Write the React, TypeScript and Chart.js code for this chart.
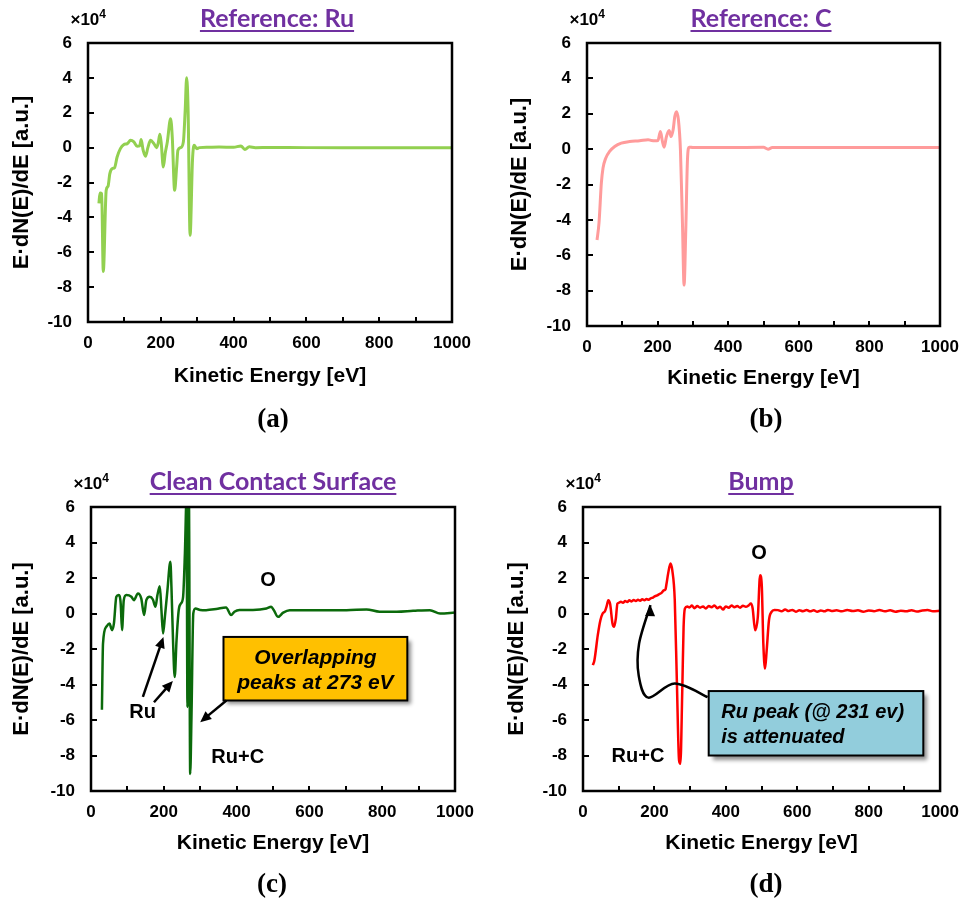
import React, { useEffect, useRef } from 'react';
import { Chart, registerables } from 'chart.js';

Chart.register(...registerables);

// ---------------- data (energy in eV, signal in units of 1e4) ----------------
const ruEnergy = [
  30, 33, 37.5, 42, 50, 55, 60, 67, 73, 80,
  89, 98, 108, 117, 126, 135, 142, 146, 151.5, 158,
  164.5, 172, 181, 188.5, 193, 197.5, 201, 207, 212, 218,
  227, 231.5, 238, 243.5, 247, 254.5, 262, 267, 271, 275,
  280.5, 287, 291.5, 299, 306, 330, 360, 400, 420, 431,
  443, 460, 500, 600, 700, 800, 900, 1000,
];
const ruSignal = [
  -3.2, -2.6, -2.64, -7.1, -2.45, -2.22, -1.49, -1.2, -1.15, -0.54,
  -0.06, 0.17, 0.23, 0.42, 0.33, 0.08, 0.1, 0.46, -0.15, -0.5,
  0, 0.42, 0.23, 0, 0.27, 0.76, 0.3, -1.11, -0.34, 0.33,
  1.66, 0.61, -2.45, -1.11, -0.15, 0, 0.33, 2.14, 4.0, 2.14,
  -5.03, -0.73, 0.13, -0.06, 0, 0.02, 0.03, 0.02, 0.1, -0.11,
  0.05, 0, 0.01, 0, 0, 0, 0, 0,
];

const carbonEnergy = [
  28.4, 34, 40.7, 45.4, 53, 64, 78.5, 97, 121, 149,
  173, 182.5, 192, 201, 208, 213.7, 218.4, 225, 232.6, 238.3,
  244, 248.7, 253.4, 259, 264.7, 270.4, 275, 279.9, 284.6, 289.3,
  300, 400, 500, 513, 525, 600, 700, 800, 900, 1000,
];
const carbonSignal = [
  -5.14, -4.17, -1.91, -1.07, -0.51, -0.13, 0.15, 0.34, 0.43, 0.47,
  0.53, 0.49, 0.47, 0.49, 0.99, 0.43, 0.11, 0.71, 1.05, 0.71,
  1.09, 1.84, 2.12, 1.65, -0.04, -4.17, -7.69, -4.54, -0.6, 0.11,
  0.09, 0.09, 0.1, 0.0, 0.09, 0.09, 0.09, 0.09, 0.09, 0.09,
];

const cleanEnergy = [
  30, 33, 42, 51, 55, 58, 63, 69.6, 76, 81.6,
  85.2, 90, 97, 111, 118, 129, 138, 146, 152, 161,
  170, 177, 182.5, 189, 193.5, 198, 203, 210, 218, 221,
  225.6, 230, 235, 241, 247, 253, 258, 262.5, 265, 269,
  272.5, 276, 281, 287, 300, 316, 344, 371, 385, 394,
  408, 445, 482, 495, 502, 514, 528, 546, 610, 702,
  757, 793, 840, 885, 931, 959, 1000,
];
const cleanSignal = [
  -5.42, -1.69, -0.75, -0.56, -0.8, -0.94, -0.56, 0.94, 1.04, 0.56,
  -0.94, 0.75, 1.04, 0.94, 0.75, 1.13, 0.85, -0.09, 0.75, 0.94,
  0.79, 0.38, 1.04, 1.54, 0.19, -1.13, -0.19, 1.32, 2.92, 1.5,
  -1.69, -3.58, -1.5, 0.19, 0.56, 0.94, 3.39, 6.5, -5.27, 6.5,
  -9.04, -5.84, 0, 0.28, 0.2, 0.19, 0.25, 0.34, -0.09, 0.1,
  0.2, 0.2, 0.28, 0.38, 0.2, -0.19, 0.05, 0.19, 0.19, 0.19,
  0.23, 0.1, 0.1, 0.15, 0.19, 0.0, 0.05,
];

const bumpEnergy = [
  27.6, 32, 41.4, 48.7, 55, 61.5, 67, 70.7, 76, 82.6,
  87, 92, 96.4, 100, 106, 112, 118, 124, 130, 136,
  142, 148, 154, 160, 166, 172, 178, 184, 190, 196,
  202, 208, 214, 220, 226, 231, 234, 238.5, 245, 250,
  257, 263, 269, 272.7, 278, 281.7, 285.4, 292, 298, 305,
  312, 320, 328, 336, 344, 352, 360, 368, 376, 384,
  392, 400, 408, 416, 424, 432, 440, 448, 456, 464,
  470, 475, 482, 489.6, 496, 500.6, 505, 509.8, 514.4, 520.8,
  528, 536, 546, 556, 566, 576, 586, 596, 606, 616,
  626, 636, 646, 656, 666, 676, 686, 696, 710, 725,
  740, 755, 770, 785, 800, 815, 830, 845, 860, 875,
  890, 905, 920, 935, 950, 965, 980, 1000,
];
const bumpSignal = [
  -2.91, -2.63, -1.22, -0.38, 0, 0.13, 0.47, 0.75, 0.53, -0.56,
  -0.75, -0.28, 0.56, 0.6, 0.66, 0.6, 0.7, 0.65, 0.74, 0.68,
  0.76, 0.7, 0.78, 0.72, 0.8, 0.74, 0.82, 0.77, 0.86, 0.9,
  0.98, 1.02, 1.1, 1.16, 1.3, 1.36, 1.69, 2.26, 2.82, 2.44,
  0.75, -3.95, -8.27, -8.46, -4.32, -0.75, 0.28, 0.4, 0.34, 0.45,
  0.3, 0.42, 0.33, 0.4, 0.28, 0.42, 0.35, 0.45, 0.3, 0.38,
  0.22, 0.4, 0.32, 0.45, 0.35, 0.42, 0.33, 0.44, 0.38, 0.46,
  0.56, 0.3, -0.94, -0.19, 2.16, 1.6, -1.69, -3.1, -2.07, -0.38,
  0.09, 0.2, 0.19, 0.12, 0.22, 0.14, 0.2, 0.1, 0.18, 0.13,
  0.2, 0.12, 0.18, 0.1, 0.17, 0.12, 0.2, 0.14, 0.18, 0.12,
  0.2, 0.14, 0.18, 0.1, 0.17, 0.13, 0.2, 0.12, 0.18, 0.1,
  0.16, 0.12, 0.19, 0.11, 0.17, 0.2, 0.12, 0.15,
];

const panelTitles = ['Reference: Ru', 'Reference: C', 'Clean Contact Surface', 'Bump'];
const panelLetters = ['(a)', '(b)', '(c)', '(d)'];
const xAxisTitle = 'Kinetic Energy [eV]';
const yAxisTitle = 'E·dN(E)/dE [a.u.]';
const xRange = [0, 1000];
const yRange = [-10, 6];
const xTickStep = 100;
const xLabelStep = 200;
const yTickStep = 2;

// ---------------- styles ----------------
const SANS = '"Liberation Sans", Arial, sans-serif';
const SERIF = '"Liberation Serif", "Times New Roman", serif';
const TITLE_FONT = 'Lato, "Noto Sans", sans-serif';
const PURPLE = '#7030A0';
const X_TITLE_SIZE = 21;
const Y_TITLE_SIZE = 22;

type Scale = { getPixelForValue: (v: number) => number };

function arrowHead(ctx: CanvasRenderingContext2D, x: number, y: number, ang: number, len = 11, half = 5) {
  ctx.beginPath();
  ctx.moveTo(x, y);
  ctx.lineTo(x - len * Math.cos(ang) + half * Math.sin(ang), y - len * Math.sin(ang) - half * Math.cos(ang));
  ctx.lineTo(x - len * Math.cos(ang) - half * Math.sin(ang), y - len * Math.sin(ang) + half * Math.cos(ang));
  ctx.closePath();
  ctx.fill();
}

function straightArrow(ctx: CanvasRenderingContext2D, x1: number, y1: number, x2: number, y2: number) {
  const ang = Math.atan2(y2 - y1, x2 - x1);
  ctx.beginPath();
  ctx.moveTo(x1, y1);
  ctx.lineTo(x2 - 9 * Math.cos(ang), y2 - 9 * Math.sin(ang));
  ctx.stroke();
  arrowHead(ctx, x2, y2, ang);
}

function shadowBox(ctx: CanvasRenderingContext2D, l: number, t: number, r: number, b: number, fill: string) {
  ctx.save();
  ctx.shadowColor = 'rgba(0,0,0,0.45)';
  ctx.shadowOffsetX = 4;
  ctx.shadowOffsetY = 4;
  ctx.shadowBlur = 4;
  ctx.fillStyle = fill;
  ctx.fillRect(l, t, r - l, b - t);
  ctx.restore();
  ctx.lineWidth = 2;
  ctx.strokeStyle = '#000';
  ctx.strokeRect(l, t, r - l, b - t);
}

function drawCleanNotes(ctx: CanvasRenderingContext2D, X: Scale, Y: Scale) {
  const px = (v: number) => X.getPixelForValue(v);
  const py = (v: number) => Y.getPixelForValue(v);
  ctx.fillStyle = '#000';
  ctx.strokeStyle = '#000';
  ctx.font = `bold 20px ${SANS}`;
  ctx.textAlign = 'center';
  ctx.textBaseline = 'middle';
  ctx.fillText('O', px(486), py(1.88));
  ctx.fillText('Ru', px(142), py(-5.58));
  ctx.fillText('Ru+C', px(403), py(-8.1));
  ctx.lineWidth = 2.5;
  straightArrow(ctx, px(142.5), py(-4.7), px(199), py(-1.32));
  straightArrow(ctx, px(173), py(-5.0), px(225), py(-3.8));
  shadowBox(ctx, px(364), py(-1.32), px(869), py(-4.9), '#FFC000');
  ctx.lineWidth = 2.5;
  ctx.fillStyle = '#000';
  straightArrow(ctx, px(372), py(-4.9), px(300), py(-6.12));
  ctx.font = `italic bold 21px ${SANS}`;
  ctx.textAlign = 'center';
  const cx = (px(364) + px(869)) / 2;
  ctx.fillText('Overlapping', cx, py(-2.53));
  ctx.fillText('peaks at 273 eV', cx, py(-3.94));
}

function drawBumpNotes(ctx: CanvasRenderingContext2D, X: Scale, Y: Scale) {
  const px = (v: number) => X.getPixelForValue(v);
  const py = (v: number) => Y.getPixelForValue(v);
  ctx.fillStyle = '#000';
  ctx.strokeStyle = '#000';
  ctx.font = `bold 20px ${SANS}`;
  ctx.textAlign = 'center';
  ctx.textBaseline = 'middle';
  ctx.fillText('O', px(493), py(3.4));
  ctx.fillText('Ru+C', px(154), py(-8.05));
  // curved arrow (Catmull-Rom through anchor points)
  const pts = [
    [349, -4.71], [257, -3.95], [183, -4.74], [156, -3.5], [157, -1.7], [189, 0.47],
  ].map(([e, v]) => [px(e), py(v)]);
  ctx.lineWidth = 2.5;
  ctx.beginPath();
  ctx.moveTo(pts[0][0], pts[0][1]);
  for (let i = 0; i < pts.length - 1; i++) {
    const p0 = pts[Math.max(0, i - 1)];
    const p1 = pts[i];
    const p2 = pts[i + 1];
    const p3 = pts[Math.min(pts.length - 1, i + 2)];
    const c1x = p1[0] + (p2[0] - p0[0]) / 6;
    const c1y = p1[1] + (p2[1] - p0[1]) / 6;
    const c2x = p2[0] - (p3[0] - p1[0]) / 6;
    const c2y = p2[1] - (p3[1] - p1[1]) / 6;
    ctx.bezierCurveTo(c1x, c1y, c2x, c2y, p2[0], p2[1]);
  }
  ctx.stroke();
  const a = pts[pts.length - 2];
  const b = pts[pts.length - 1];
  arrowHead(ctx, b[0], b[1], Math.atan2(b[1] - a[1], b[0] - a[0]) - 0.25);
  shadowBox(ctx, px(352), py(-4.37), px(953), py(-8.0), '#92CDDC');
  ctx.fillStyle = '#000';
  ctx.font = `italic bold 20px ${SANS}`;
  ctx.textAlign = 'left';
  ctx.fillText('Ru peak (@ 231 ev)', px(387), py(-5.56));
  ctx.fillText('is attenuated', px(387), py(-6.97));
}

interface PanelCfg {
  key: string;
  left: number; top: number; width: number; height: number;
  plot: { l: number; t: number; r: number; b: number };
  title: string; letter: string;
  xs: number[]; ys: number[];
  color: string; lineWidth: number;
  titleX: number; titleBase: number;
  noteBase: number;
  yTitleX: number; xTitleY: number;
  letterX: number; letterY: number;
  notes?: (ctx: CanvasRenderingContext2D, X: Scale, Y: Scale) => void;
}

const panels: PanelCfg[] = [
  {
    key: 'a', left: 0, top: 0, width: 485, height: 449,
    plot: { l: 88, t: 43, r: 452, b: 322 },
    title: panelTitles[0], letter: panelLetters[0],
    xs: ruEnergy, ys: ruSignal, color: '#92D050', lineWidth: 3,
    titleX: 277, titleBase: 27, noteBase: 25,
    yTitleX: 22, xTitleY: 376, letterX: 273, letterY: 420,
  },
  {
    key: 'b', left: 485, top: 0, width: 485, height: 449,
    plot: { l: 102, t: 43, r: 455, b: 326 },
    title: panelTitles[1], letter: panelLetters[1],
    xs: carbonEnergy, ys: carbonSignal, color: '#FF9B9B', lineWidth: 3,
    titleX: 276, titleBase: 27, noteBase: 25,
    yTitleX: 35, xTitleY: 378, letterX: 281, letterY: 420,
  },
  {
    key: 'c', left: 0, top: 450, width: 485, height: 449,
    plot: { l: 91, t: 57, r: 455, b: 341 },
    title: panelTitles[2], letter: panelLetters[2],
    xs: cleanEnergy, ys: cleanSignal, color: '#0B6A0B', lineWidth: 2.5,
    titleX: 273, titleBase: 40, noteBase: 39,
    yTitleX: 22, xTitleY: 393, letterX: 272, letterY: 435,
    notes: drawCleanNotes,
  },
  {
    key: 'd', left: 485, top: 450, width: 485, height: 449,
    plot: { l: 98, t: 57, r: 462, b: 341 },
    title: panelTitles[3], letter: panelLetters[3],
    xs: bumpEnergy, ys: bumpSignal, color: '#FF0000', lineWidth: 2.5,
    titleX: 276, titleBase: 40, noteBase: 39,
    yTitleX: 32, xTitleY: 393, letterX: 281, letterY: 435,
    notes: drawBumpNotes,
  },
];

function makeDecor(cfg: PanelCfg) {
  return {
    id: 'decor_' + cfg.key,
    afterDatasetsDraw(chart: any) {
      const { ctx, chartArea: a } = chart;
      const X = chart.scales.x;
      const Y = chart.scales.y;
      ctx.save();
      ctx.strokeStyle = '#000';
      ctx.lineWidth = 2;
      ctx.beginPath();
      X.ticks.forEach((t: any) => {
        if (t.value > X.min && t.value < X.max) {
          const p = Math.round(X.getPixelForValue(t.value));
          ctx.moveTo(p, a.bottom);
          ctx.lineTo(p, a.bottom - 5);
        }
      });
      Y.ticks.forEach((t: any) => {
        if (t.value > Y.min && t.value < Y.max) {
          const p = Math.round(Y.getPixelForValue(t.value));
          ctx.moveTo(a.left, p);
          ctx.lineTo(a.left + 6, p);
        }
      });
      ctx.stroke();
      ctx.lineWidth = 2.5;
      ctx.strokeRect(a.left, a.top, a.right - a.left, a.bottom - a.top);
      ctx.restore();
    },
    afterDraw(chart: any) {
      const { ctx, chartArea: a } = chart;
      ctx.save();
      // underlined purple title
      ctx.font = `bold 25px ${TITLE_FONT}`;
      ctx.fillStyle = PURPLE;
      ctx.textAlign = 'center';
      ctx.textBaseline = 'alphabetic';
      ctx.fillText(cfg.title, cfg.titleX, cfg.titleBase);
      const w = ctx.measureText(cfg.title).width;
      ctx.fillRect(cfg.titleX - w / 2, cfg.titleBase + 3, w, 2);
      // x10^4 multiplier
      ctx.fillStyle = '#000';
      ctx.textAlign = 'right';
      ctx.font = `bold 12px ${SANS}`;
      const rightEnd = a.left + 18;
      ctx.fillText('4', rightEnd, cfg.noteBase - 7);
      const w4 = ctx.measureText('4').width;
      ctx.font = `bold 17px ${SANS}`;
      ctx.fillText('×10', rightEnd - w4, cfg.noteBase);
      // panel letter
      ctx.font = `bold 27px ${SERIF}`;
      ctx.textAlign = 'center';
      ctx.textBaseline = 'middle';
      ctx.fillText(cfg.letter, cfg.letterX, cfg.letterY);
      if (cfg.notes) cfg.notes(ctx, chart.scales.x, chart.scales.y);
      ctx.restore();
    },
  };
}

function Panel({ cfg }: { cfg: PanelCfg }) {
  const ref = useRef<HTMLCanvasElement>(null);
  useEffect(() => {
    const canvas = ref.current;
    if (!canvas) return;
    const tickFont = { family: SANS, size: 17, weight: 'bold' as const };
    const xTitleFont = { family: SANS, size: X_TITLE_SIZE, weight: 'bold' as const };
    const yTitleFont = { family: SANS, size: Y_TITLE_SIZE, weight: 'bold' as const };
    const xHalf = (X_TITLE_SIZE * 1.2) / 2;
    const yHalf = (Y_TITLE_SIZE * 1.2) / 2;
    const chart = new Chart(canvas, {
      type: 'line',
      data: {
        datasets: [
          {
            data: cfg.xs.map((x, i) => ({ x, y: cfg.ys[i] })),
            borderColor: cfg.color,
            borderWidth: cfg.lineWidth,
            pointRadius: 0,
            fill: false,
            cubicInterpolationMode: 'monotone',
            clip: 0,
          } as any,
        ],
      },
      options: {
        responsive: false,
        animation: false,
        events: [],
        layout: { padding: { left: 0, top: cfg.plot.t, right: cfg.width - cfg.plot.r, bottom: 0 } },
        plugins: { legend: { display: false }, tooltip: { enabled: false } },
        scales: {
          x: {
            type: 'linear',
            min: xRange[0],
            max: xRange[1],
            grid: { display: false, drawTicks: false },
            border: { display: false },
            ticks: {
              stepSize: xTickStep,
              autoSkip: false,
              maxRotation: 0,
              padding: 11,
              color: '#000',
              font: tickFont,
              callback: (v: any) => (Number(v) % xLabelStep === 0 ? String(v) : ''),
            },
            title: {
              display: true,
              text: xAxisTitle,
              color: '#000',
              font: xTitleFont,
              padding: { top: 0, bottom: cfg.height - cfg.xTitleY - xHalf },
            },
            afterFit: (s: any) => {
              s.height = cfg.height - cfg.plot.b;
            },
          },
          y: {
            type: 'linear',
            min: yRange[0],
            max: yRange[1],
            grid: { display: false, drawTicks: false },
            border: { display: false },
            ticks: {
              stepSize: yTickStep,
              padding: 16,
              color: '#000',
              font: tickFont,
              callback: (v: any) => String(v),
            },
            title: {
              display: true,
              text: yAxisTitle,
              color: '#000',
              font: yTitleFont,
              padding: { top: cfg.yTitleX - yHalf, bottom: 0 },
            },
            afterFit: (s: any) => {
              s.width = cfg.plot.l;
            },
          },
        },
      } as any,
      plugins: [makeDecor(cfg)],
    });
    return () => chart.destroy();
  }, [cfg]);
  return (
    <canvas
      ref={ref}
      width={cfg.width}
      height={cfg.height}
      style={{ position: 'absolute', left: cfg.left, top: cfg.top, width: cfg.width, height: cfg.height }}
    />
  );
}

export default function App() {
  return (
    <div style={{ position: 'fixed', left: 0, top: 0, width: 970, height: 899, background: '#fff', overflow: 'hidden' }}>
      {panels.map((p) => (
        <Panel key={p.key} cfg={p} />
      ))}
    </div>
  );
}
